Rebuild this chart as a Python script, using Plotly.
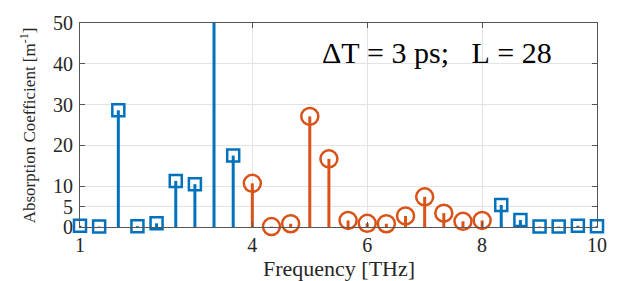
import plotly.graph_objects as go

# Data
freq_blue = [1.0, 1.333, 1.667, 2.0, 2.333, 2.667, 3.0, 3.333, 3.667,
             8.333, 8.667, 9.0, 9.333, 9.667, 10.0]
abs_blue = [0.3, 0.1, 28.6, 0.2, 0.9, 11.3, 10.5, 62.0, 17.5,
            5.4, 1.7, 0.1, 0.1, 0.3, 0.2]
freq_orange = [4.0, 4.333, 4.667, 5.0, 5.333, 5.667, 6.0, 6.333, 6.667,
               7.0, 7.333, 7.667, 8.0]
abs_orange = [10.7, 0.1, 0.8, 27.1, 16.7, 1.6, 0.9, 0.8, 2.7,
              7.4, 3.4, 1.4, 1.6]
x_ticks = [1, 4, 6, 8, 10]
y_ticks = [0, 5, 10, 20, 30, 40, 50]
Y_MAX = 50

BLUE = "#0072BD"
ORANGE = "#D95319"
FONT = "Liberation Serif"

fig = go.Figure()


def add_stems(xs, ys, color, symbol, size):
    sx, sy = [], []
    for x, y in zip(xs, ys):
        sx += [x, x, None]
        sy += [0, y, None]
    fig.add_trace(go.Scatter(x=sx, y=sy, mode="lines",
                             line=dict(color=color, width=3),
                             hoverinfo="skip", showlegend=False))
    mx = [x for x, y in zip(xs, ys) if y <= Y_MAX]
    my = [y for y in ys if y <= Y_MAX]
    fig.add_trace(go.Scatter(x=mx, y=my, mode="markers", cliponaxis=False,
                             marker=dict(symbol=symbol, size=size, color=color,
                                         line=dict(color=color, width=2.5)),
                             showlegend=False))


add_stems(freq_blue, abs_blue, BLUE, "square-open", 12)
add_stems(freq_orange, abs_orange, ORANGE, "circle-open", 17)

axis_common = dict(
    showline=True, linecolor="#555555", linewidth=1, mirror="ticks",
    ticks="inside", ticklen=5, tickcolor="#555555",
    showgrid=True, gridcolor="#e3e3e3", gridwidth=1, zeroline=False,
    tickfont=dict(family=FONT, size=20, color="#262626"),
)

fig.update_xaxes(range=[1, 10], tickvals=x_ticks, ticktext=[str(t) for t in x_ticks],
                 **axis_common)
fig.update_yaxes(range=[0, Y_MAX], tickvals=y_ticks, ticktext=[str(t) for t in y_ticks],
                 ticklabelstandoff=2, **axis_common)

NB = "\u00a0"
label = f"\u0394T{NB}={NB}3{NB}ps;{NB}{NB}{NB}L{NB}={NB}28"
fig.add_annotation(text=label, xref="paper", yref="paper",
                   x=0.69, y=0.856, xanchor="center", yanchor="middle",
                   showarrow=False, font=dict(family=FONT, size=30, color="black"))
fig.add_annotation(text="Frequency [THz]", xref="paper", yref="paper",
                   x=0.5, y=-0.13, xanchor="center", yanchor="top",
                   showarrow=False, font=dict(family=FONT, size=22, color="#262626"))
fig.add_annotation(text="Absorption Coefficient [m<sup>-1</sup>]", xref="paper", yref="paper",
                   x=-0.1, y=0.5, xanchor="center", yanchor="middle", textangle=-90,
                   showarrow=False, font=dict(family=FONT, size=17, color="#262626"))

fig.update_layout(
    width=619, height=281,
    margin=dict(l=80, r=12, t=12, b=54),
    paper_bgcolor="white", plot_bgcolor="white",
)

fig.write_html("out.html", config={"displayModeBar": False},
               post_script="document.body.style.margin='0';document.body.style.overflow='hidden';")
